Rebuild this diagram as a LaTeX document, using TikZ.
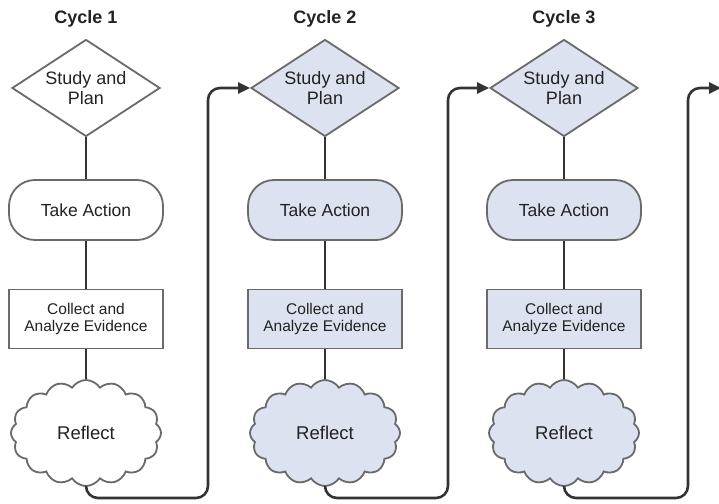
\documentclass[tikz,border=0pt]{standalone}
\usepackage{fontspec}
\setmainfont{Liberation Sans}
\usetikzlibrary{shapes.geometric,shapes.symbols,arrows.meta}

\definecolor{shapeedge}{HTML}{6A6A6A}
\definecolor{linkcol}{HTML}{333333}
\definecolor{paleblue}{HTML}{DCE2F0}
\definecolor{txt}{HTML}{222222}

\tikzset{
  base/.style={draw=shapeedge, line width=1.8pt, text=txt, align=center,
    font=\fontsize{17.5}{20}\selectfont},
  plan/.style={base, diamond, aspect=1.5, inner sep=0pt,
    minimum width=148pt, minimum height=97pt,
    font=\fontsize{18}{20}\selectfont},
  act/.style={base, rectangle, rounded corners=26pt,
    minimum width=154pt, minimum height=60pt},
  evid/.style={base, rectangle, minimum width=154pt, minimum height=59pt,
    font=\fontsize{15.5}{17.5}\selectfont},
  refl/.style={base, cloud, cloud puffs=16, cloud puff arc=115, aspect=1.45,
    inner sep=0pt, minimum width=150pt, minimum height=106pt,
    font=\fontsize{18.5}{20}\selectfont},
  title/.style={font=\bfseries\fontsize{18}{20}\selectfont, text=txt},
  link/.style={draw=linkcol, line width=2.6pt},
  loop/.style={link, rounded corners=12pt,
    -{Triangle[length=12pt,width=11pt]}},
}

\begin{document}
\begin{tikzpicture}[x=1pt,y=1pt]
  \useasboundingbox (0,0) rectangle (719,503);

  % one column per cycle: title, plan, action, evidence, reflection
  \foreach \i/\x/\f in {1/86/white, 2/325/paleblue, 3/564/paleblue}{
    \node[title] (t\i) at (\x,484) {Cycle \i};
    \node[plan, fill=\f] (p\i) at (\x,415) {Study and\\Plan};
    \node[act, fill=\f]  (a\i) at (\x,293) {Take Action};
    \node[evid, fill=\f] (e\i) at (\x,184) {Collect and\\Analyze Evidence};
    \node[refl, fill=\f] (r\i) at (\x,70)  {Reflect};
    \draw[link] (p\i.south) -- (a\i.north);
    \draw[link] (a\i.south) -- (e\i.north);
    \draw[link] (e\i.south) -- (r\i.north);
  }

  % corners of the return paths between cycles
  \coordinate (c1b) at (208,5);
  \coordinate (c2b) at (448,5);
  \coordinate (c3b) at (688,5);
  \coordinate (exit) at (721,415);

  \draw[loop] (r1.south) |- (c1b) |- (p2.west);
  \draw[loop] (r2.south) |- (c2b) |- (p3.west);
  \draw[loop] (r3.south) |- (c3b) |- (exit);
\end{tikzpicture}
\end{document}
